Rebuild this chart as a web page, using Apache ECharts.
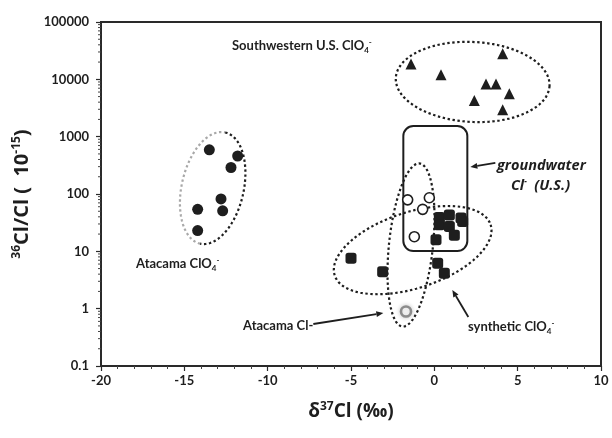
<!DOCTYPE html>
<html><head><meta charset="utf-8">
<script src="https://cdn.jsdelivr.net/npm/echarts@6/dist/echarts.min.js"></script>
<style>html,body{margin:0;padding:0;background:#fff}#c{width:612px;height:438px}</style>
</head><body><div id="c"></div>
<script>
// ---- data ----
const xTickLabels = ['-20','-15','-10','-5','0','5','10'];
const yTickLabels = ['0.1','1','10','100','1000','10000','100000'];
const atacamaClO4 = [[-13.5,590],[-11.8,460],[-12.2,290],[-12.8,82],[-14.2,54],[-12.7,51],[-14.2,23]];
const swClO4 = [[-1.4,18600],[4.1,27900],[0.4,12000],[3.1,8250],[3.7,8250],[2.4,4270],[4.5,5580],[4.1,2940]];
const openCircles = [[-1.6,79],[-0.3,86],[-0.7,54],[-1.2,18]];
const atacamaCl = [[-1.7,0.89]];
const synthClO4 = [[-5.0,7.6],[-3.1,4.4],[0.2,6.2],[0.6,4.15],[0.3,39],[0.9,43],[1.6,38],[0.3,29],[0.9,27],[1.2,19],[0.1,16],[1.7,33]];
// annotation anchors (data coords)
const ellipseCenters = [[-13.3,127],[2.3,9000],[-1.4,12.9],[-1.3,10.5]];
const groundwaterBox = [[-1.86,1535,1.98,10.1]];
const arrows = [[3.66,348,2.16,296],[2.04,0.716,1.08,2.12],[-7.26,0.54,-3.06,0.84]];
const yMinorTickValues = [];
[0.1,1,10,100,1000,10000].forEach(b=>{for(let k=2;k<=9;k++) yMinorTickValues.push(b*k);});

// ---- styles ----
const ellipseStyles = [
  {rx:31, ry:57, rot:-12.7, half:true},
  {rx:77, ry:40, rot:-3},
  {rx:22, ry:82, rot:-6},
  {rx:82, ry:38, rot:18}
];
const DARK = '#1e1e1e';
const FONT = 'Lato';
const TFONT = 'Open Sans';

function ellipsePts(cx,cy,rx,ry,rot,t0,t1){
  const pts=[]; const n=90; const c=Math.cos(rot), s=Math.sin(rot);
  for(let i=0;i<=n;i++){const t=t0+(t1-t0)*i/n; const x=rx*Math.cos(t), y=ry*Math.sin(t);
    pts.push([cx + x*c + y*s, cy - x*s + y*c]);}
  return pts;
}

const chart = echarts.init(document.getElementById('c'));
function txt(x,y,text,size,italic,fam){
  fam = fam || FONT;
  const fs = italic?'italic':'normal';
  return {type:'text', x:x, y:y, z:100, style:{text:text, fill:DARK, font:(italic?'italic ':'')+'bold '+size+'px "'+fam+'"',
    rich:{sub:{fontSize:8,fontWeight:'bold',fontFamily:fam,verticalAlign:'bottom',lineHeight:16,fill:DARK,fontStyle:fs},
          sup:{fontSize:8,fontWeight:'bold',fontFamily:fam,verticalAlign:'top',lineHeight:16,fill:DARK,fontStyle:fs}}}};
}
const titleRich = {sup:{fontSize:12,fontWeight:'bold',fontFamily:TFONT,verticalAlign:'top',lineHeight:22,color:DARK}};

chart.setOption({
  animation:false,
  backgroundColor:'#fff',
  grid:{left:101,right:11,top:22,bottom:72,show:true,borderColor:'#2a2a2a',borderWidth:2,backgroundColor:'transparent'},
  xAxis:{type:'value',min:-20,max:10,interval:5,
    name:'δ{sup|37}Cl (‰)',nameLocation:'middle',nameGap:35,
    nameTextStyle:{fontFamily:TFONT,fontSize:19,fontWeight:'bold',color:DARK,lineHeight:22,rich:titleRich},
    axisLine:{show:true,onZero:false,lineStyle:{color:'#2a2a2a',width:2}},
    axisTick:{show:true,length:5,inside:false,lineStyle:{color:'#2a2a2a',width:1.2}},
    minorTick:{show:true,splitNumber:5,length:3,lineStyle:{color:'#444',width:1}},
    splitLine:{show:false},
    axisLabel:{margin:8,fontFamily:FONT,fontSize:13,fontWeight:'bold',color:DARK,
      formatter:v=>xTickLabels[Math.round((v+20)/5)]}
  },
  yAxis:{type:'log',logBase:10,min:0.1,max:100000,
    name:'{sup|36}Cl/Cl (  10{sup|-15})',nameLocation:'middle',nameGap:43,nameRotate:90,
    nameTextStyle:{fontFamily:TFONT,fontSize:20,fontWeight:'bold',color:DARK,lineHeight:22,rich:titleRich},
    axisLine:{show:true,onZero:false,lineStyle:{color:'#2a2a2a',width:2}},
    axisTick:{show:true,length:5,lineStyle:{color:'#2a2a2a',width:1.2}},
    splitLine:{show:false},
    axisLabel:{margin:12,fontFamily:FONT,fontSize:13,fontWeight:'bold',color:DARK,
      formatter:v=>yTickLabels[Math.round(Math.log10(v))+1]}
  },
  series:[
    {type:'custom',name:'yMinor',silent:true,clip:false,z:1,
      data:yMinorTickValues.map(v=>[-20,v]),
      renderItem:(p,api)=>{const pt=api.coord([api.value(0),api.value(1)]);
        return {type:'line',shape:{x1:pt[0]-3,y1:pt[1],x2:pt[0],y2:pt[1]},style:{stroke:'#444',lineWidth:1}};}},
    {type:'custom',name:'ellipses',silent:true,z:2,
      data:ellipseCenters,
      renderItem:(p,api)=>{const c=api.coord([api.value(0),api.value(1)]); const st=ellipseStyles[p.dataIndex];
        const rot=st.rot*Math.PI/180;
        const base={lineWidth:2.2,lineDash:[2.4,2.6],fill:null};
        if(st.half){
          return {type:'group',children:[
            {type:'polyline',shape:{points:ellipsePts(c[0],c[1],st.rx,st.ry,rot,Math.PI/2,3*Math.PI/2)},style:Object.assign({stroke:'#a8a8a8'},base)},
            {type:'polyline',shape:{points:ellipsePts(c[0],c[1],st.rx,st.ry,rot,-Math.PI/2,Math.PI/2)},style:Object.assign({stroke:DARK},base)}
          ]};
        }
        return {type:'polyline',shape:{points:ellipsePts(c[0],c[1],st.rx,st.ry,rot,0,2*Math.PI)},style:Object.assign({stroke:DARK},base)};
      }},
    {type:'custom',name:'box',silent:true,z:2,
      data:groundwaterBox,
      renderItem:(p,api)=>{const a=api.coord([api.value(0),api.value(1)]), b=api.coord([api.value(2),api.value(3)]);
        return {type:'rect',shape:{x:a[0],y:a[1],width:b[0]-a[0],height:b[1]-a[1],r:10},style:{fill:null,stroke:DARK,lineWidth:2}};}},
    {type:'custom',name:'arrows',silent:true,z:2,clip:false,
      data:arrows,
      renderItem:(p,api)=>{const a=api.coord([api.value(0),api.value(1)]), b=api.coord([api.value(2),api.value(3)]);
        const ang=Math.atan2(b[1]-a[1],b[0]-a[0]); const L=7,W=3;
        const hx=b[0]-L*Math.cos(ang), hy=b[1]-L*Math.sin(ang);
        return {type:'group',children:[
          {type:'line',shape:{x1:a[0],y1:a[1],x2:hx,y2:hy},style:{stroke:DARK,lineWidth:1.8}},
          {type:'polygon',shape:{points:[[b[0],b[1]],[hx-W*Math.sin(ang),hy+W*Math.cos(ang)],[hx+W*Math.sin(ang),hy-W*Math.cos(ang)]]},style:{fill:DARK}}
        ]};}},
    {type:'scatter',name:'Atacama ClO4-',data:atacamaClO4,symbol:'circle',symbolSize:11,z:5,itemStyle:{color:DARK,opacity:1}},
    {type:'scatter',name:'Southwestern U.S. ClO4-',data:swClO4,symbol:'triangle',symbolSize:11,z:5,itemStyle:{color:DARK,opacity:1}},
    {type:'scatter',name:'open',data:openCircles,symbol:'circle',symbolSize:10,z:5,itemStyle:{color:'#fff',borderColor:DARK,borderWidth:1.6,opacity:1}},
    {type:'scatter',name:'Atacama Cl-',data:atacamaCl,symbol:'circle',symbolSize:10,z:5,itemStyle:{color:'#fff',borderColor:'#8c8c8c',borderWidth:2.6,shadowBlur:5,shadowColor:'rgba(0,0,0,0.2)',opacity:1}},
    {type:'scatter',name:'synthetic ClO4-',data:synthClO4,symbol:'roundRect',symbolSize:11,z:5,itemStyle:{color:DARK,opacity:1}}
  ],
  graphic:[
    txt(232,38,'Southwestern U.S. ClO{sub|4}{sup|-}',13,false),
    txt(136,256,'Atacama ClO{sub|4}{sup|-}',13,false),
    txt(497,158,'groundwater',14.5,true,TFONT),
    txt(511,178,'Cl{sup|-}  (U.S.)',14.5,true,TFONT),
    txt(468,319,'synthetic ClO{sub|4}{sup|-}',13,false),
    txt(243,319,'Atacama Cl-',13,false)
  ]
});
</script></body></html>
